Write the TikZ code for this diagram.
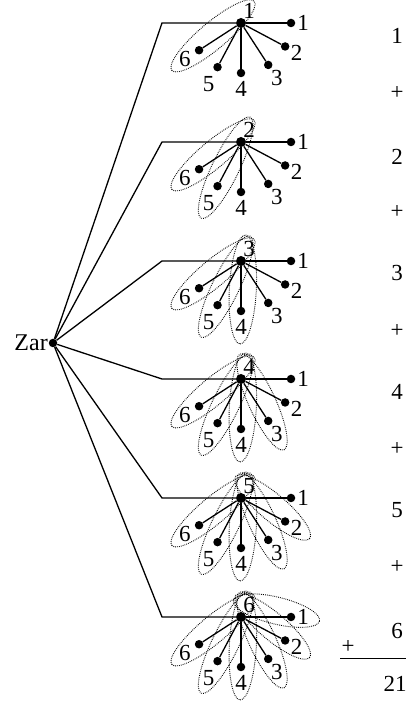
\documentclass[tikz,border=0pt]{standalone}
\usepackage{fontspec}
\setmainfont{Liberation Serif}
\usetikzlibrary{calc}
\begin{document}
\begin{tikzpicture}[x=1pt,y=1pt,
  dot/.style={circle,fill=black,inner sep=0pt,minimum size=8.5pt},
  hubdot/.style={circle,fill=black,inner sep=0pt,minimum size=10pt},
  lab/.style={inner sep=0pt,font=\fontsize{23}{23}\selectfont},
  zarlab/.style={inner sep=0pt,font=\fontsize{24}{24}\selectfont},
  sumlab/.style={inner sep=0pt,font=\fontsize{23}{23}\selectfont},
  edge/.style={line width=1.3pt},
  ell/.style={draw=black,line width=0.9pt,dash pattern=on 0.8pt off 1.1pt}]
\useasboundingbox (0,0) rectangle (406,704);
\node[dot] (zar) at (53,361) {};
\node[zarlab,anchor=east] (zart) at (48,361) {Zar};
\foreach \n/\y in {1/681,2/562,3/443,4/325,5/206,6/87} {
  \coordinate (b\n) at (162,\y);
  \node[hubdot] (h\n) at (241,\y) {};
  \coordinate (P\n) at ($(h\n)+(4,14)$);
  \draw[edge] (zar) -- (b\n) -- (h\n);
  \foreach \k/\a/\r/\ang/\len in {1/0/62/-13.6/59.7,2/-28/63/-40.2/67.6,3/-57/66/-65.3/76.4,4/-90/66/-92.9/80.1,5/-118/69/-115.9/83.3,6/-147/67/-140.0/78.6} {
    \node[dot] (l\n\k) at ($(h\n)+(\a:50)$) {};
    \draw[edge] (h\n) -- (l\n\k);
    \node[lab] (t\n\k) at ($(h\n)+(\a:\r)$) {\k};
    \ifnum\k>\numexpr6-\n\relax
      \coordinate (e\n\k) at ($(P\n)+(\ang:\len/2+2.5)$);
      \draw[ell, rotate around={\ang:(e\n\k)}] (e\n\k) ellipse [x radius={\len/2+14.5}, y radius=13.5];
    \fi
  }
  \node[lab] (hl\n) at ($(h\n)+(8,12)$) {\n};
}
\foreach \n/\y in {1/668,2/547,3/431,4/312,5/194,6/73} {
  \node[sumlab] (s\n) at (397,\y) {\n};
}
\foreach \m/\y in {1/611,2/492,3/373,4/255,5/137} {
  \node[sumlab] (p\m) at (397,\y) {+};
}
\node[sumlab] (p6) at (348,57) {+};
\coordinate (sl) at (340,45);
\coordinate (sr) at (406,45);
\draw[line width=1pt] (sl) -- (sr);
\node[sumlab] (tot) at (395,20) {21};
\end{tikzpicture}
\end{document}
